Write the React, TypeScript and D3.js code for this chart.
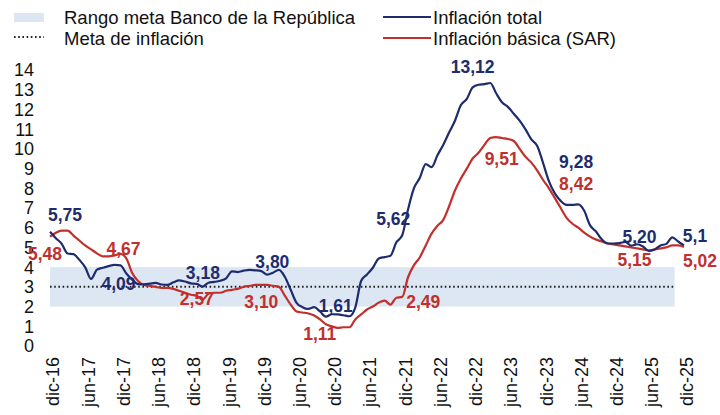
import React from "react";
import * as d3 from "d3";

// Monthly series, dic-16 (index 0) to dic-25 (index 108)
const inflacionTotal: number[] = [
  5.8,
  5.47, 5.18, 4.69, 4.66, 4.37, 3.99, 3.4, 3.87, 3.97, 4.05, 4.12, 4.09,
  3.68, 3.37, 3.14, 3.13, 3.16, 3.2, 3.12, 3.1, 3.23, 3.33, 3.27, 3.18,
  3.15, 3.01, 3.21, 3.25, 3.31, 3.43, 3.79, 3.75, 3.82, 3.86, 3.84, 3.8,
  3.62, 3.72, 3.86, 3.51, 2.85, 2.19, 1.97, 1.88, 1.97, 1.75, 1.49, 1.61,
  1.6, 1.56, 1.51, 1.95, 3.3, 3.63, 3.97, 4.44, 4.51, 4.58, 5.26, 5.62,
  6.94, 8.01, 8.53, 9.23, 9.07, 9.67, 10.21, 10.84, 11.44, 12.22, 12.53, 13.12,
  13.25, 13.28, 13.34, 12.82, 12.36, 12.13, 11.78, 11.43, 10.99, 10.48, 10.15, 9.28,
  8.35, 7.74, 7.36, 7.16, 7.16, 7.18, 6.86, 6.12, 5.81, 5.41, 5.2, 5.2,
  5.22, 5.28, 5.09, 5.16, 5.05, 4.82, 4.9, 5.1, 5.18, 5.51, 5.3, 5.1,
];

const inflacionBasica: number[] = [
  5.55,
  5.75, 5.85, 5.85, 5.6, 5.35, 5.1, 4.9, 4.7, 4.55, 4.55, 4.6, 4.67,
  4.45, 3.7, 3.3, 3.1, 3.05, 3.0, 2.95, 2.95, 2.9, 2.8, 2.7, 2.6,
  2.55, 2.35, 2.65, 2.7, 2.7, 2.8, 2.85, 2.9, 3.0, 3.05, 3.1, 3.1,
  3.1, 3.05, 3.0, 2.55, 2.1, 1.75, 1.7, 1.65, 1.55, 1.35, 1.1, 1.0,
  0.92, 0.95, 0.95, 1.35, 1.6, 1.85, 2.0, 2.2, 2.3, 2.1, 2.45, 2.49,
  3.5, 4.1, 4.5, 5.1, 5.7, 6.1, 6.4, 7.1, 7.9, 8.5, 9.0, 9.51,
  9.8, 10.2, 10.55, 10.6, 10.55, 10.5, 10.4, 10.0, 9.6, 9.3, 8.9, 8.42,
  8.0, 7.5, 7.0, 6.5, 6.2, 6.0, 5.75, 5.55, 5.4, 5.3, 5.2, 5.15,
  5.1, 5.05, 5.0, 4.95, 4.9, 4.85, 4.9, 4.95, 5.0, 5.1, 5.1, 5.02,
];

const tickLabels: string[] = [
  "dic-16", "jun-17", "dic-17", "jun-18", "dic-18", "jun-19", "dic-19",
  "jun-20", "dic-20", "jun-21", "dic-21", "jun-22", "dic-22", "jun-23",
  "dic-23", "jun-24", "dic-24", "jun-25", "dic-25",
];

const yTicks: number[] = d3.range(0, 15);

const rangoMeta: [number, number] = [2, 4];
const metaInflacion = 3;
const rangoFinIndex = 106.4;

// Annotations: [month index, text]
const labelsTotal: [number, string][] = [
  [0, "5,75"], [12, "4,09"], [24, "3,18"], [36, "3,80"], [48, "1,61"],
  [60, "5,62"], [72, "13,12"], [84, "9,28"], [96, "5,20"], [108, "5,1"],
];
const labelsBasica: [number, string][] = [
  [0, "5,48"], [12, "4,67"], [24, "2,57"], [36, "3,10"], [48, "1,11"],
  [60, "2,49"], [72, "9,51"], [84, "8,42"], [96, "5,15"], [108, "5,02"],
];
// label placement offsets (pixels, centre x / baseline y) relative to the data point
const offTotal: [number, number][] = [
  [15, -11], [-2, 25], [12, -4], [11, -3], [4, -2], [-9, -10], [0, -14], [33, 5], [26, 0], [11, -3.5],
];
const offBasica: [number, number][] = [
  [-5, 23], [3, 1], [6, 10], [0, 23], [-12, 14], [21, 11], [29, 6.5], [33, 10], [21, 22], [16, 20],
];

const W = 720;
const H = 415;
const BLUE = "#1e2c6e";
const RED = "#c1302c";
const FONT = "'Liberation Sans', Arial, sans-serif";

export default function App() {
  const x = d3.scaleLinear().domain([0, 108]).range([50, 684]);
  const y = d3.scaleLinear().domain([0, 14]).range([346, 70]);

  const line = d3
    .line<number>()
    .x((_, i) => x(i))
    .y((d) => y(d))
    .curve(d3.curveMonotoneX);

  return (
    <svg
      width={W}
      height={H}
      style={{ position: "fixed", left: 0, top: 0, background: "#fff" }}
      fontFamily={FONT}
    >
      {/* band */}
      <rect
        x={x(0)}
        y={y(rangoMeta[1])}
        width={x(rangoFinIndex) - x(0)}
        height={y(rangoMeta[0]) - y(rangoMeta[1])}
        fill="#dde6f3"
      />
      <line
        x1={x(0)}
        x2={x(rangoFinIndex)}
        y1={y(metaInflacion)}
        y2={y(metaInflacion)}
        stroke="#222"
        strokeWidth={2}
        strokeDasharray="1.6 2.6"
      />

      {/* y ticks */}
      {yTicks.map((t) => (
        <text key={t} x={34} y={y(t)} dy="0.36em" textAnchor="end" fontSize={18} fill="#111">
          {t}
        </text>
      ))}

      {/* x ticks */}
      {tickLabels.map((l, i) => (
        <text
          key={l}
          transform={`translate(${x(i * 6) + 3},357) rotate(-90)`}
          textAnchor="end"
          dy="0.36em"
          fontSize={18}
          fill="#111"
        >
          {l}
        </text>
      ))}

      {/* lines */}
      <path d={line(inflacionBasica) || ""} fill="none" stroke={RED} strokeWidth={2.2} />
      <path d={line(inflacionTotal) || ""} fill="none" stroke={BLUE} strokeWidth={2.2} />

      {/* labels */}
      {labelsTotal.map(([i, t], k) => (
        <text
          key={"t" + k}
          x={x(i) + offTotal[k][0]}
          y={y(inflacionTotal[i]) + offTotal[k][1]}
          textAnchor="middle"
          fontSize={17.5}
          fontWeight="bold"
          fill={BLUE}
        >
          {t}
        </text>
      ))}
      {labelsBasica.map(([i, t], k) => (
        <text
          key={"b" + k}
          x={x(i) + offBasica[k][0]}
          y={y(inflacionBasica[i]) + offBasica[k][1]}
          textAnchor="middle"
          fontSize={17.5}
          fontWeight="bold"
          fill={RED}
        >
          {t}
        </text>
      ))}

      {/* legend */}
      <rect x={14} y={13} width={30} height={9} fill="#dde6f3" />
      <text x={64} y={24} fontSize={18.5} fill="#111">Rango meta Banco de la República</text>
      <line x1={14} x2={44} y1={37} y2={37} stroke="#222" strokeWidth={2} strokeDasharray="1.6 2.6" />
      <text x={64} y={45} fontSize={18.5} fill="#111">Meta de inflación</text>
      <line x1={383} x2={431} y1={17} y2={17} stroke={BLUE} strokeWidth={2.2} />
      <text x={433} y={24} fontSize={18.5} fill="#111">Inflación total</text>
      <line x1={383} x2={431} y1={38} y2={38} stroke={RED} strokeWidth={2.2} />
      <text x={433} y={45} fontSize={18.5} fill="#111">Inflación básica (SAR)</text>
    </svg>
  );
}
